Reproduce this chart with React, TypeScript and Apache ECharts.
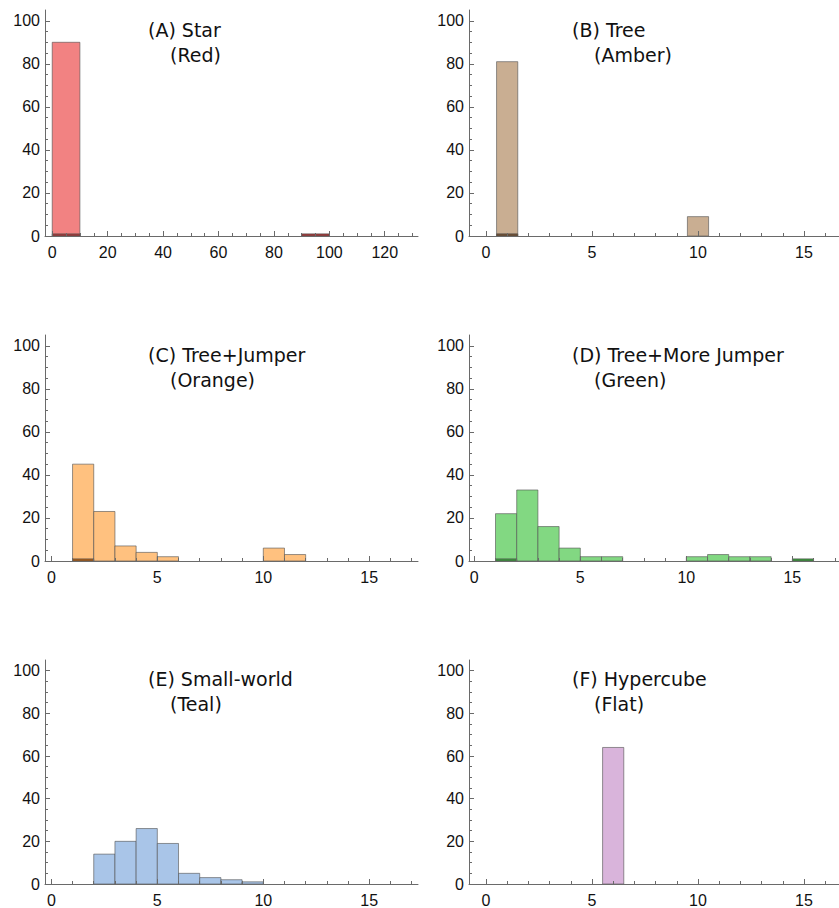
import React, { useEffect, useRef } from "react";
import * as echarts from "echarts";

// ---- data ----
const panelTitles = ["(A) Star", "(B) Tree", "(C) Tree+Jumper", "(D) Tree+More Jumper", "(E) Small-world", "(F) Hypercube"];
const panelSubtitles = ["(Red)", "(Amber)", "(Orange)", "(Green)", "(Teal)", "(Flat)"];

const yMajorTicks = [0, 20, 40, 60, 80, 100];
const yMinorTicks = [5, 10, 15, 25, 30, 35, 45, 50, 55, 65, 70, 75, 85, 90, 95];

const starMajorTicks = [0, 20, 40, 60, 80, 100, 120];
const starMinorTicks = [5, 10, 15, 25, 30, 35, 45, 50, 55, 65, 70, 75, 85, 90, 95, 105, 110, 115, 125, 130];
const smallMajorTicks = [0, 5, 10, 15];
const smallMinorTicks = [1, 2, 3, 4, 6, 7, 8, 9, 11, 12, 13, 14, 16, 17];

// histogram bins: first bin start, bin width, counts (and darker overlay counts)
const starBinStart = 0;
const starBinWidth = 10;
const starCounts = [90, 0, 0, 0, 0, 0, 0, 0, 0, 0];
const starOverlay = [1, 0, 0, 0, 0, 0, 0, 0, 0, 1];

const treeBinStart = 0.5;
const treeBinWidth = 1;
const treeCounts = [81, 0, 0, 0, 0, 0, 0, 0, 0, 9];
const treeOverlay = [1, 0, 0, 0, 0, 0, 0, 0, 0, 0];

const jumperBinStart = 1;
const jumperBinWidth = 1;
const jumperCounts = [45, 23, 7, 4, 2, 0, 0, 0, 0, 6, 3];
const jumperOverlay = [1, 0, 0, 0, 0, 0, 0, 0, 0, 0, 0];

const moreJumperBinStart = 1;
const moreJumperBinWidth = 1;
const moreJumperCounts = [22, 33, 16, 6, 2, 2, 0, 0, 0, 2, 3, 2, 2, 0, 0];
const moreJumperOverlay = [1, 0, 0, 0, 0, 0, 0, 0, 0, 0, 0, 0, 0, 0, 1];

const smallWorldBinStart = 2;
const smallWorldBinWidth = 1;
const smallWorldCounts = [14, 20, 26, 19, 5, 3, 2, 1];
const smallWorldOverlay: number[] = [];

const hypercubeBinStart = 5.5;
const hypercubeBinWidth = 1;
const hypercubeCounts = [64];
const hypercubeOverlay: number[] = [];

// ---- styling / layout ----
const fills = ["#F28282", "#C9AE92", "#FFC17F", "#82D882", "#A9C5E8", "#D9B4DB"];
const overlayFills = ["#A03838", "#6E4E30", "#A85A14", "#3A963A", "#555", "#555"];
const edge = "rgba(80,80,80,0.6)";
const axisColor = "#6a6a6a";
const labelFont = "Liberation Sans, Arial, sans-serif";
const titleFont = "DejaVu Sans, Verdana, sans-serif";

function bins(start: number, width: number, counts: number[]) {
  const out: number[][] = [];
  counts.forEach((c, i) => {
    if (c > 0) out.push([start + i * width, start + (i + 1) * width, c]);
  });
  return out;
}

const panels = [
  { start: starBinStart, width: starBinWidth, counts: starCounts, overlay: starOverlay, majors: starMajorTicks, minors: starMinorTicks, xmin: -2.6, xmax: 132 },
  { start: treeBinStart, width: treeBinWidth, counts: treeCounts, overlay: treeOverlay, majors: smallMajorTicks, minors: smallMinorTicks, xmin: -0.8, xmax: 16.65 },
  { start: jumperBinStart, width: jumperBinWidth, counts: jumperCounts, overlay: jumperOverlay, majors: smallMajorTicks, minors: smallMinorTicks, xmin: -0.3, xmax: 17.3 },
  { start: moreJumperBinStart, width: moreJumperBinWidth, counts: moreJumperCounts, overlay: moreJumperOverlay, majors: smallMajorTicks, minors: smallMinorTicks, xmin: -0.25, xmax: 17.2 },
  { start: smallWorldBinStart, width: smallWorldBinWidth, counts: smallWorldCounts, overlay: smallWorldOverlay, majors: smallMajorTicks, minors: smallMinorTicks, xmin: -0.3, xmax: 17.3 },
  { start: hypercubeBinStart, width: hypercubeBinWidth, counts: hypercubeCounts, overlay: hypercubeOverlay, majors: smallMajorTicks, minors: smallMinorTicks, xmin: -0.8, xmax: 16.65 },
];

const colLeft = [45, 469];
const colWidth = [373, 370];
const rowBottom = [236, 561, 886];
const gridHeight = 226;
const yMax = 105;

export default function App() {
  const ref = useRef<HTMLDivElement>(null);
  useEffect(() => {
    if (!ref.current) return;
    const chart = echarts.init(ref.current, undefined, { renderer: "svg" });
    const grid: any[] = [];
    const xAxis: any[] = [];
    const yAxis: any[] = [];
    const series: any[] = [];
    const graphic: any[] = [];

    panels.forEach((p, i) => {
      const col = i % 2;
      const row = Math.floor(i / 2);
      grid.push({ left: colLeft[col], top: rowBottom[row] - gridHeight, width: colWidth[col], height: gridHeight, containLabel: false });
      const minorX = p.minors.filter((v) => v > p.xmin && v < p.xmax);
      xAxis.push({
        gridIndex: i, type: "value", min: p.xmin, max: p.xmax, position: "bottom", z: 5,
        axisLine: { show: true, onZero: false, lineStyle: { color: axisColor, width: 1 } },
        axisTick: { show: true, inside: true, length: 5, customValues: p.majors, lineStyle: { color: axisColor } },
        axisLabel: { show: true, customValues: p.majors, margin: 8, fontSize: 16, color: "#111", fontFamily: labelFont },
        splitLine: { show: false },
      });
      xAxis.push({
        gridIndex: i, type: "value", min: p.xmin, max: p.xmax, position: "bottom", z: 5,
        axisLine: { show: false, onZero: false },
        axisTick: { show: true, inside: true, length: 3, customValues: minorX, lineStyle: { color: axisColor } },
        axisLabel: { show: false },
        splitLine: { show: false },
      });
      yAxis.push({
        gridIndex: i, type: "value", min: 0, max: yMax, position: "left", z: 5,
        axisLine: { show: true, onZero: false, lineStyle: { color: axisColor, width: 1 } },
        axisTick: { show: true, inside: true, length: 5, customValues: yMajorTicks, lineStyle: { color: axisColor } },
        axisLabel: { show: true, customValues: yMajorTicks, margin: 5, fontSize: 16, color: "#111", fontFamily: labelFont },
        splitLine: { show: false },
      });
      yAxis.push({
        gridIndex: i, type: "value", min: 0, max: yMax, position: "left", z: 5,
        axisLine: { show: false, onZero: false },
        axisTick: { show: true, inside: true, length: 3, customValues: yMinorTicks, lineStyle: { color: axisColor } },
        axisLabel: { show: false },
        splitLine: { show: false },
      });
      const makeSeries = (data: number[][], fill: string, z: number) => ({
        type: "custom",
        xAxisIndex: i * 2,
        yAxisIndex: i * 2,
        z,
        encode: { x: [0, 1], y: 2 },
        data,
        renderItem: (_params: any, api: any) => {
          const p0 = api.coord([api.value(0), api.value(2)]);
          const p1 = api.coord([api.value(1), 0]);
          return {
            type: "rect",
            shape: { x: p0[0], y: p0[1], width: p1[0] - p0[0], height: p1[1] - p0[1] },
            style: { fill, stroke: edge, lineWidth: 1 },
          };
        },
      });
      series.push(makeSeries(bins(p.start, p.width, p.counts), fills[i], 2));
      if (p.overlay.length) series.push(makeSeries(bins(p.start, p.width, p.overlay), overlayFills[i], 3));

      const tx = col === 0 ? 148 : 572;
      const ty = row * 324.7;
      graphic.push({ type: "text", x: tx, y: ty + 30, style: { text: panelTitles[i], font: `19px ${titleFont}`, fill: "#111", verticalAlign: "middle", align: "left" } });
      graphic.push({ type: "text", x: tx + 22, y: ty + 55, style: { text: panelSubtitles[i], font: `19px ${titleFont}`, fill: "#111", verticalAlign: "middle", align: "left" } });
    });

    chart.setOption({
      animation: false,
      backgroundColor: "#fff",
      grid, xAxis, yAxis, series, graphic,
    });
    return () => chart.dispose();
  }, []);
  return <div ref={ref} style={{ position: "absolute", left: 0, top: 0, width: 839, height: 908 }} />;
}
